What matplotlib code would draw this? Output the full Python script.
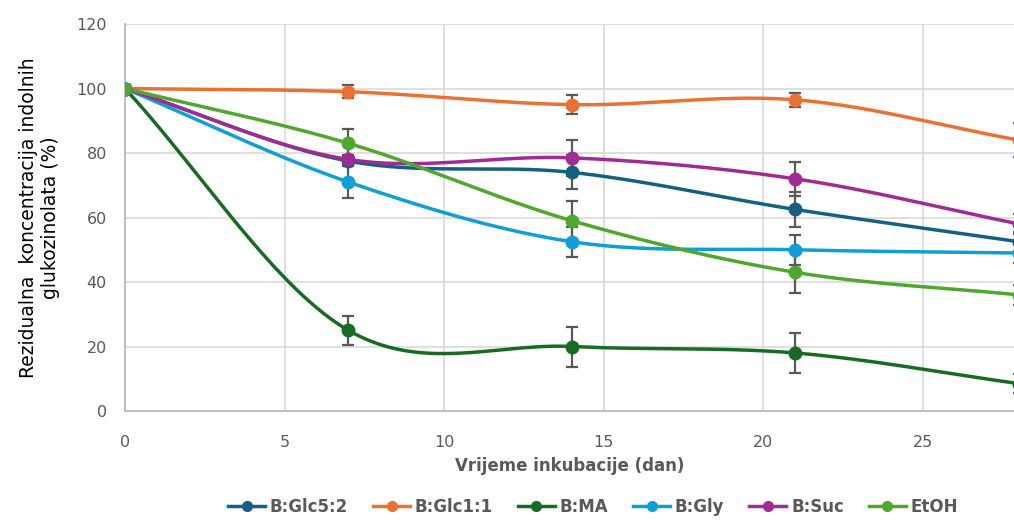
import numpy as np
import matplotlib
matplotlib.use("Agg")
import matplotlib.pyplot as plt
from matplotlib.lines import Line2D

days = [0, 7, 14, 21, 28]
series = ["B:Glc5:2", "B:Glc1:1", "B:MA", "B:Gly", "B:Suc", "EtOH"]
colors = ["#156082", "#E97132", "#196B24", "#0F9ED5", "#A02B93", "#4EA72E"]

glc52 = [100, 77.5, 74, 62.5, 52.5]
glc11 = [100, 99, 95, 96.5, 84]
ma = [100, 25, 20, 18, 8.5]
gly = [100, 71, 52.5, 50, 49]
suc = [100, 78, 78.5, 72, 58]
etoh = [100, 83, 59, 43, 36]

glc52_err = [1, 1.5, 5.3, 5.3, 3]
glc11_err = [1, 2, 3, 2.2, 5.3]
ma_err = [1, 4.6, 6.2, 6.2, 3]
gly_err = [1, 5, 4.6, 4.6, 3]
suc_err = [1, 1.5, 5.5, 5.3, 3]
etoh_err = [1, 4.6, 6, 6.5, 3]

values = [glc52, glc11, ma, gly, suc, etoh]
errors = [glc52_err, glc11_err, ma_err, gly_err, suc_err, etoh_err]


def smooth(x, y, n=40):
    """Catmull-Rom curve through the points (like Excel's smoothed line)."""
    x = np.asarray(x, float)
    y = np.asarray(y, float)
    px = np.concatenate([[2 * x[0] - x[1]], x, [2 * x[-1] - x[-2]]])
    py = np.concatenate([[2 * y[0] - y[1]], y, [2 * y[-1] - y[-2]]])
    xs, ys = [], []
    t = np.linspace(0, 1, n)
    for i in range(1, len(px) - 2):
        for p, out in ((px, xs), (py, ys)):
            p0, p1, p2, p3 = p[i - 1], p[i], p[i + 1], p[i + 2]
            c1 = p1 + (p2 - p0) / 6
            c2 = p2 - (p3 - p1) / 6
            out.extend((1 - t) ** 3 * p1 + 3 * (1 - t) ** 2 * t * c1
                       + 3 * (1 - t) * t ** 2 * c2 + t ** 3 * p2)
    return np.array(xs), np.array(ys)


fig = plt.figure(figsize=(10.14, 5.2), dpi=100)
ax = fig.add_axes([0.1233, 0.2096, 0.8767, 0.7442])

for name, vals, errs, col in zip(series, values, errors, colors):
    sx, sy = smooth(days, vals)
    ax.plot(sx, sy, color=col, lw=2.5, zorder=3)
    ax.errorbar(days, vals, yerr=errs, fmt="none", ecolor="#595959",
                elinewidth=1.6, capsize=4, capthick=1.6, zorder=4)
    ax.plot(days, vals, "o", color=col, ms=9, zorder=5)

ax.set_xlim(0, 27.85)
ax.set_ylim(0, 120)
ax.set_xticks(range(0, 26, 5))
ax.set_yticks(range(0, 121, 20))
ax.grid(True, color="#d9d9d9", lw=1.2)
ax.set_axisbelow(True)
for s in ["top", "right"]:
    ax.spines[s].set_visible(False)
for s in ["left", "bottom"]:
    ax.spines[s].set_color("#bfbfbf")
    ax.spines[s].set_linewidth(1.5)
ax.tick_params(length=0, labelsize=11.5, labelcolor="#595959")
ax.tick_params(axis="x", pad=17)
ax.tick_params(axis="y", pad=13)

ax.set_xlabel("Vrijeme inkubacije (dan)", fontsize=12, fontweight="bold",
              color="#595959", labelpad=5)
ax.set_ylabel("Rezidualna  koncentracija indolnih\nglukozinolata (%)",
              fontsize=13.5, color="black", labelpad=12)

handles = [Line2D([0], [0], color=c, lw=2.5, marker="o", ms=7) for c in colors]
fig.legend(handles, series, loc="center", bbox_to_anchor=(0.585, 0.025),
           ncol=6, frameon=False, handlelength=2.2, columnspacing=1.5,
           handletextpad=0.3, prop={"size": 12, "weight": "bold"},
           labelcolor="#595959")

fig.savefig("out.png", dpi=100)
